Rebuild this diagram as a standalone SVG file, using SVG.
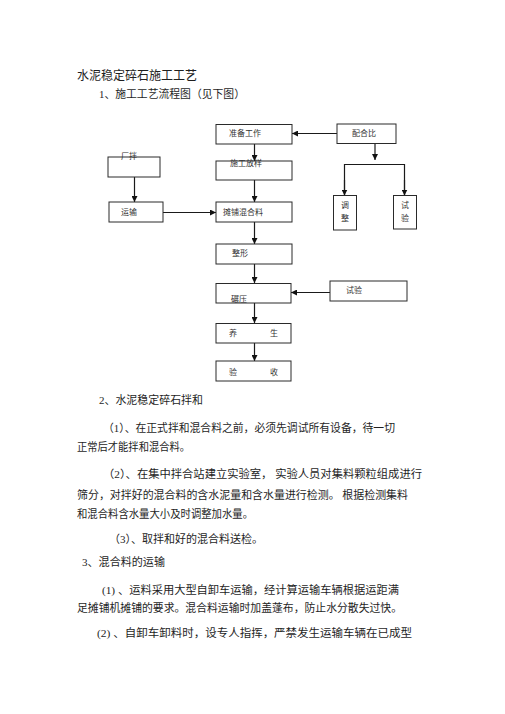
<svg xmlns="http://www.w3.org/2000/svg" width="505" height="714" viewBox="0 0 505 714">
<defs>
<style>
.t{font-family:"Liberation Serif","Noto Sans CJK SC",serif;fill:#1e1e1e;font-size:11px}
.h{font-size:12.5px}
.b{font-family:"Liberation Serif","Noto Sans CJK SC",serif;fill:#333;font-size:8px}
.box{fill:#fff;stroke:#2a2a2a;stroke-width:1}
.ln{fill:none;stroke:#1a1a1a;stroke-width:1.2}
</style>
<marker id="a" viewBox="0 0 10 10" refX="10" refY="5" markerWidth="6" markerHeight="6" orient="auto" markerUnits="userSpaceOnUse">
<path d="M0,0 L10,5 L0,10 z" fill="#111"/>
</marker>
</defs>
<rect width="505" height="714" fill="#fff"/>

<text class="t h" x="77" y="80" textLength="120" lengthAdjust="spacingAndGlyphs">水泥稳定碎石施工工艺</text>
<text class="t" x="99" y="98" textLength="146" lengthAdjust="spacingAndGlyphs">1、施工工艺流程图（见下图）</text>

<g id="connectors">
<path class="ln" d="M337,133.5 H292" marker-end="url(#a)"/>
<path class="ln" d="M254.5,144 V161" marker-end="url(#a)"/>
<path class="ln" d="M254.5,180 V202" marker-end="url(#a)"/>
<path class="ln" d="M134.5,177 V202" marker-end="url(#a)"/>
<path class="ln" d="M163,212.5 H216" marker-end="url(#a)" stroke-width="2"/>
<path class="ln" d="M254.5,222 V244" marker-end="url(#a)"/>
<path class="ln" d="M254.5,264 V283" marker-end="url(#a)"/>
<path class="ln" d="M330,292.5 H291" marker-end="url(#a)"/>
<path class="ln" d="M254.5,303 V323" marker-end="url(#a)"/>
<path class="ln" d="M254.5,343 V361" marker-end="url(#a)"/>
<path class="ln" d="M375,143.5 V160" marker-end="url(#a)"/>
<path class="ln" d="M344.5,195.5 V164.5 H404.5 V195.5"/>
<path class="ln" d="M344.5,180 V195.5" marker-end="url(#a)"/>
<path class="ln" d="M404.5,180 V195.5" marker-end="url(#a)"/>
</g>

<g id="n-prep"><rect class="box" x="216" y="124.5" width="76" height="19.5"/><text class="b" x="229" y="136">准备工作</text></g>
<g id="n-ratio"><rect class="box" x="337" y="124" width="59" height="19.5"/><text class="b" x="352" y="136">配合比</text></g>
<g id="n-plant"><rect class="box" x="108" y="157" width="52" height="20"/><text class="b" x="121" y="158.5">厂拌</text></g>
<g id="n-stake"><rect class="box" x="216" y="161" width="76" height="19"/><text class="b" x="230" y="166">施工放样</text></g>
<g id="n-trans"><rect class="box" x="109" y="202" width="54" height="20"/><text class="b" x="121" y="215">运输</text></g>
<g id="n-spread"><rect class="box" x="216" y="202" width="76" height="20"/><text class="b" x="223" y="215">摊铺混合料</text></g>
<g id="n-adjust"><rect class="box" x="333.5" y="195.5" width="23" height="34.5"/><text class="b" x="341" y="208">调</text><text class="b" x="341" y="221">整</text></g>
<g id="n-test1"><rect class="box" x="393.5" y="195.5" width="23" height="33.5"/><text class="b" x="401" y="208">试</text><text class="b" x="401" y="221">验</text></g>
<g id="n-shape"><rect class="box" x="216" y="244" width="76" height="20"/><text class="b" x="232" y="256">整形</text></g>
<g id="n-roll"><rect class="box" x="216" y="283.5" width="75" height="19.5"/><text class="b" x="231" y="302">碾压</text></g>
<g id="n-test2"><rect class="box" x="330" y="281" width="77" height="20"/><text class="b" x="346" y="293">试验</text></g>
<g id="n-cure"><rect class="box" x="216" y="323.5" width="75" height="19.5"/><text class="b" x="229" y="336">养</text><text class="b" x="270" y="336">生</text></g>
<g id="n-accept"><rect class="box" x="216" y="361" width="75" height="20"/><text class="b" x="229" y="374.5">验</text><text class="b" x="270" y="374.5">收</text></g>

<text class="t" x="99" y="404" textLength="104" lengthAdjust="spacingAndGlyphs">2、水泥稳定碎石拌和</text>
<text class="t" x="103" y="432" textLength="292" lengthAdjust="spacingAndGlyphs">（1）、在正式拌和混合料之前，必须先调试所有设备，待一切</text>
<text class="t" x="77" y="451" textLength="113" lengthAdjust="spacingAndGlyphs">正常后才能拌和混合料。</text>
<text class="t" x="103" y="478" textLength="319" lengthAdjust="spacingAndGlyphs">（2）、在集中拌合站建立实验室， 实验人员对集料颗粒组成进行</text>
<text class="t" x="77" y="498.5" textLength="331" lengthAdjust="spacingAndGlyphs">筛分，对拌好的混合料的含水泥量和含水量进行检测。 根据检测集料</text>
<text class="t" x="77" y="517.5" textLength="176" lengthAdjust="spacingAndGlyphs">和混合料含水量大小及时调整加水量。</text>
<text class="t" x="109" y="542.5" textLength="154" lengthAdjust="spacingAndGlyphs">（3）、取拌和好的混合料送检。</text>
<text class="t" x="82" y="566" textLength="83" lengthAdjust="spacingAndGlyphs">3、混合料的运输</text>
<text class="t" x="102" y="594" textLength="297" lengthAdjust="spacingAndGlyphs">(1) 、运料采用大型自卸车运输，经计算运输车辆根据运距满</text>
<text class="t" x="77" y="612" textLength="325" lengthAdjust="spacingAndGlyphs">足摊铺机摊铺的要求。混合料运输时加盖蓬布，防止水分散失过快。</text>
<text class="t" x="97" y="637" textLength="315" lengthAdjust="spacingAndGlyphs">(2)    、自卸车卸料时，设专人指挥，严禁发生运输车辆在已成型</text>
</svg>
